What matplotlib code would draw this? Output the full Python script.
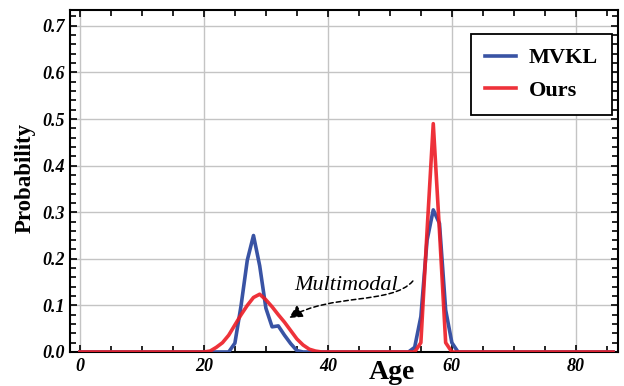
import numpy as np
import matplotlib
matplotlib.use("Agg")
import matplotlib.pyplot as plt
from matplotlib.ticker import MultipleLocator
from matplotlib.path import Path
from matplotlib.patches import FancyArrowPatch

ages = np.arange(0, 87)

mvkl_nonzero = {25: 0.019, 26: 0.10, 27: 0.197, 28: 0.25, 29: 0.185, 30: 0.094,
                31: 0.054, 32: 0.056, 33: 0.036, 34: 0.018, 35: 0.003,
                54: 0.01, 55: 0.076, 56: 0.24, 57: 0.305, 58: 0.276, 59: 0.09, 60: 0.02}
ours_nonzero = {21: 0.002, 22: 0.01, 23: 0.02, 24: 0.036, 25: 0.058, 26: 0.08,
                27: 0.10, 28: 0.117, 29: 0.124, 30: 0.112, 31: 0.097, 32: 0.08,
                33: 0.064, 34: 0.046, 35: 0.028, 36: 0.015, 37: 0.006, 38: 0.002,
                55: 0.02, 56: 0.26, 57: 0.49, 58: 0.26, 59: 0.02}

mvkl = np.array([mvkl_nonzero.get(a, 0.0) for a in ages])
ours = np.array([ours_nonzero.get(a, 0.0) for a in ages])

xticks = [0, 20, 40, 60, 80]
yticks = [0.0, 0.1, 0.2, 0.3, 0.4, 0.5, 0.6, 0.7]

serif = ["Liberation Serif", "DejaVu Serif"]

fig = plt.figure(figsize=(6.24, 3.86), dpi=100)
ax = fig.add_axes([70/624, 1-352/386, 548/624, (352-9.5)/386])

blue = "#3953a4"
red = "#ed1c24"
ax.plot(ages, mvkl, color=blue, lw=2.6, label="MVKL", zorder=3)
ax.plot(ages, ours, color=red, lw=2.6, label="Ours", zorder=4, alpha=0.9)

ax.set_xlim(-1.6, 86.8)
ax.set_ylim(0, 0.735)
ax.set_xticks(xticks)
ax.set_yticks(yticks)
ax.set_xticklabels([str(t) for t in xticks])
ax.set_yticklabels([f"{t:.1f}" for t in yticks])
ax.xaxis.set_minor_locator(MultipleLocator(5))
ax.yaxis.set_minor_locator(MultipleLocator(0.02))
ax.tick_params(which="both", direction="in", top=True, right=True, width=1.2, color="black")
ax.tick_params(which="major", length=5, pad=4)
ax.tick_params(which="minor", length=4)
for lab in ax.get_xticklabels() + ax.get_yticklabels():
    lab.set_fontfamily(serif)
    lab.set_fontweight("bold")
    lab.set_fontstyle("italic")
    lab.set_fontsize(13)
for s in ax.spines.values():
    s.set_linewidth(1.5)

ax.grid(True, which="major", color="#c4c4c4", lw=1.0, zorder=0)
ax.set_axisbelow(True)

fig.text(25/624, 1-178/386, "Probability", rotation=90, ha="center", va="center",
         fontsize=16.5, fontweight="bold", family=serif)
fig.text(392/624, 1-379/386, "Age", ha="center", va="baseline",
         fontsize=20, fontweight="bold", family=serif)

leg = ax.legend(loc="upper right", bbox_to_anchor=(0.989, 0.928), frameon=True,
                fancybox=False, prop={"family": serif, "weight": "bold", "size": 16},
                handlelength=1.4, borderpad=0.62, labelspacing=0.55, handletextpad=0.6,
                borderaxespad=0)
leg.get_frame().set_edgecolor("black")
leg.get_frame().set_linewidth(1.3)
leg.get_frame().set_alpha(1)

# curved dashed arrow (pixel-estimated control points converted to data)
def px2data(px, py):
    return ((px - 80) / 6.2, (352 - py) / 466)

verts = [px2data(413, 281), px2data(392, 305), px2data(330, 293), px2data(289, 318)]
codes = [Path.MOVETO, Path.CURVE4, Path.CURVE4, Path.CURVE4]
arrow = FancyArrowPatch(path=Path(verts, codes),
                        arrowstyle="-|>,head_length=8,head_width=4",
                        color="black", lw=1.1, ls=(0, (3, 2)), zorder=5)
ax.add_patch(arrow)
ax.text(43.0, 0.142, "Multimodal", ha="center", va="center", fontsize=16,
        style="italic", family=serif)

fig.savefig("out.png", dpi=100)
